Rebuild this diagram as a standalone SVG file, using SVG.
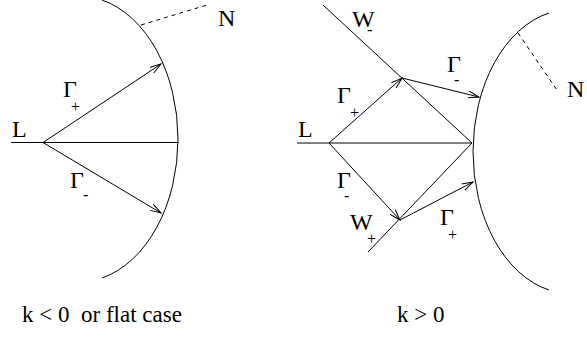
<svg xmlns="http://www.w3.org/2000/svg" width="587" height="341" viewBox="0 0 587 341">
<style>
  .ln { stroke: #000; stroke-width: 1; fill: none; }
  .dash { stroke: #000; stroke-width: 1; fill: none; stroke-dasharray: 4 4; }
  .arr { marker-end: url(#ah); }
  text { fill: #000; }
  .big { font-size: 24px; }
  .sub { font-size: 16px; }
  .cap { font-size: 23px; }
</style>
<defs>
  <marker id="ah" markerUnits="userSpaceOnUse" markerWidth="14" markerHeight="10" refX="11" refY="4" orient="auto" viewBox="0 0 14 10">
    <path d="M0,0.5 L11,4 L0,7.5" fill="none" stroke="#000" stroke-width="1"/>
  </marker>
</defs>
<rect width="587" height="341" fill="#fff"/>

<g id="connectors">
  <line class="ln" x1="11" y1="142.5" x2="179" y2="142.5"/>
  <line class="ln arr" x1="43" y1="142.5" x2="161" y2="64"/>
  <line class="ln arr" x1="43" y1="142.5" x2="161" y2="213"/>
  <line class="dash" x1="141" y1="25" x2="207" y2="5"/>
  <line class="ln" x1="323" y1="5" x2="472" y2="143"/>
  <line class="ln" x1="297" y1="143" x2="472" y2="143"/>
  <line class="ln" x1="368" y1="252" x2="472" y2="143"/>
  <line class="ln arr" x1="329" y1="143" x2="402" y2="78"/>
  <line class="ln arr" x1="329" y1="143" x2="400" y2="220"/>
  <line class="ln arr" x1="402" y1="78" x2="479" y2="97"/>
  <line class="ln arr" x1="400" y1="220" x2="473" y2="182"/>
  <line class="dash" x1="518" y1="33" x2="557" y2="90"/>
</g>

<g id="N-left-curve">
  <path class="ln" d="M102,0 A99.3,143 0 0 1 102,278"/>
</g>
<g id="N-right-curve">
  <path class="ln" d="M549,13 A97.5,142 0 0 0 549,290"/>
</g>

<g id="labels-left" font-family="Liberation Serif, serif">
  <text class="big" x="218" y="26">N</text>
  <text class="big" x="12" y="137">L</text>
  <text class="big" x="63" y="97">Γ<tspan class="sub" x="71" y="112">+</tspan></text>
  <text class="big" x="70" y="188">Γ<tspan class="sub" x="83" y="200">-</tspan></text>
  <text class="cap" x="22" y="322" xml:space="preserve">k &lt; 0  or flat case</text>
</g>

<g id="labels-right" font-family="Liberation Serif, serif">
  <text class="big" x="352" y="27">W<tspan class="sub" x="367" y="35">-</tspan></text>
  <text class="big" x="447" y="72">Γ<tspan class="sub" x="454" y="85">-</tspan></text>
  <text class="big" x="567" y="97">N</text>
  <text class="big" x="337" y="103">Γ<tspan class="sub" x="350" y="118">+</tspan></text>
  <text class="big" x="298" y="137">L</text>
  <text class="big" x="337" y="188">Γ<tspan class="sub" x="344" y="201">-</tspan></text>
  <text class="big" x="350" y="230">W<tspan class="sub" x="367" y="244">+</tspan></text>
  <text class="big" x="440" y="225">Γ<tspan class="sub" x="448" y="240">+</tspan></text>
  <text class="cap" x="397" y="322">k &gt; 0</text>
</g>
</svg>
